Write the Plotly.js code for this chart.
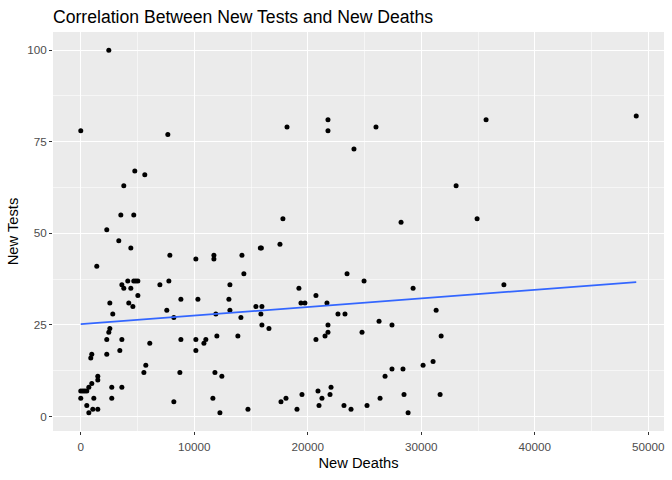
<!DOCTYPE html>
<html>
<head>
<meta charset="utf-8">
<script src="https://cdn.plot.ly/plotly-3.0.1.min.js"></script>
<style>html,body{margin:0;padding:0;background:#fff;}#chart{width:672px;height:480px;}</style>
</head>
<body>
<div id="chart"></div>
<script>
// New Deaths (x) and New Tests (y)
const newDeaths = [
  2470, 0, 7670, 4760, 5640, 3790, 3530, 4670, 2290, 3350,
  4410, 1410, 7850, 10140, 3620, 3790, 4140, 4410, 4670, 4850,
  5030, 6970, 7760, 2560, 4230, 4590, 5030, 8820, 10320, 2820,
  7580, 8200, 2560, 2470, 2290, 3620, 8820, 10140, 11020, 10850,
  6080, 10140, 3440, 2290, 970, 880, 5730, 5560, 8730, 1500,
  1500, 970, 710, 0, 180, 350, 530, 2730, 3620, 0,
  1150, 2730, 8200, 530, 710, 1060, 1500, 18170, 21780, 21780,
  24070, 17810, 17550, 15820, 15910, 11730, 11730, 14200, 14370, 13140,
  13050, 13140, 11900, 14110, 15430, 15960, 15870, 15960, 16580, 11990,
  13840, 19220, 19400, 19750, 20720, 21690, 22660, 23280, 23460, 21780,
  21780, 21520, 20720, 11820, 12430, 11640, 12260, 14730, 17640, 18080,
  19490, 19050, 20900, 22050, 21960, 21250, 20990, 23190, 23810, 26010,
  35710, 33070, 28220, 34920, 24960, 29280, 37280, 31310, 26280, 27420,
  24780, 31750, 30160, 31040, 27420, 28390, 26810, 26370, 28480, 31660,
  25220, 28840, 48940
];
const newTests = [
  100, 78, 77, 67, 66, 63, 55, 55, 51, 48,
  46, 41, 44, 43, 36, 35, 37, 35, 37, 37,
  37, 36, 37, 31, 31, 30, 33, 32, 32, 28,
  29, 27, 24, 23, 21, 21, 21, 21, 21, 20,
  20, 18, 18, 17, 17, 16, 14, 12, 12, 11,
  10, 9, 8, 7, 7, 7, 7, 8, 8, 5,
  5, 5, 4, 3, 1, 2, 2, 79, 81, 78,
  73, 54, 47, 46, 46, 44, 43, 44, 39, 36,
  32, 29, 28, 27, 30, 30, 28, 25, 24, 22,
  22, 35, 31, 31, 33, 31, 28, 28, 39, 25,
  23, 22, 21, 12, 11, 5, 1, 2, 4, 5,
  6, 2, 7, 8, 6, 5, 3, 3, 2, 79,
  81, 63, 53, 54, 37, 35, 36, 29, 26, 25,
  23, 22, 14, 15, 13, 13, 11, 5, 6, 6,
  3, 1, 82
];
// linear trend (geom_smooth method = "lm") end points
const trendDeaths = [0, 48940];
const trendTests = [25.2, 36.7];

const xTicks = [0, 10000, 20000, 30000, 40000, 50000];
const yTicks = [0, 25, 50, 75, 100];

const FONT = 'Liberation Sans, Arial, sans-serif';

const traces = [
  {
    type: 'scatter', mode: 'markers',
    x: newDeaths, y: newTests,
    marker: {color: '#000000', size: 5},
    hoverinfo: 'skip', showlegend: false
  },
  {
    type: 'scatter', mode: 'lines',
    x: trendDeaths, y: trendTests,
    line: {color: '#3366FF', width: 1.8},
    hoverinfo: 'skip', showlegend: false
  }
];

const axisCommon = {
  showline: false, zeroline: false,
  showgrid: true, gridcolor: '#FFFFFF', gridwidth: 1.1,
  ticks: 'outside', ticklen: 3, tickwidth: 1.1, tickcolor: '#333333',
  tickfont: {family: FONT, size: 11.7, color: '#4D4D4D'},
  tickmode: 'array'
};

const layout = {
  width: 672, height: 480,
  paper_bgcolor: '#FFFFFF', plot_bgcolor: '#EBEBEB',
  margin: {l: 53, r: 8, t: 32, b: 49, pad: 0},
  font: {family: FONT, color: '#000000'},
  title: {
    text: 'Correlation Between New Tests and New Deaths',
    font: {family: FONT, size: 17.6, color: '#000000'},
    xref: 'container', x: 53/672, xanchor: 'left',
    yref: 'container', y: 1 - 17/480, yanchor: 'middle'
  },
  xaxis: Object.assign({}, axisCommon, {
    range: [-2447, 51387],
    tickvals: xTicks, ticktext: xTicks.map(String),
    ticklabelstandoff: 2,
    minor: {showgrid: true, gridcolor: '#FFFFFF', gridwidth: 0.55, dtick: 5000, tick0: 0, ticks: ''},
    title: {text: 'New Deaths', font: {family: FONT, size: 14.7, color: '#000000'}, standoff: 5}
  }),
  yaxis: Object.assign({}, axisCommon, {
    range: [-3.95, 104.95],
    tickvals: yTicks, ticktext: yTicks.map(String),
    minor: {showgrid: true, gridcolor: '#FFFFFF', gridwidth: 0.55, dtick: 12.5, tick0: 0, ticks: ''},
    title: {text: 'New Tests', font: {family: FONT, size: 14.7, color: '#000000'}, standoff: 4}
  })
};

Plotly.newPlot('chart', traces, layout, {staticPlot: true, displayModeBar: false});
</script>
</body>
</html>
